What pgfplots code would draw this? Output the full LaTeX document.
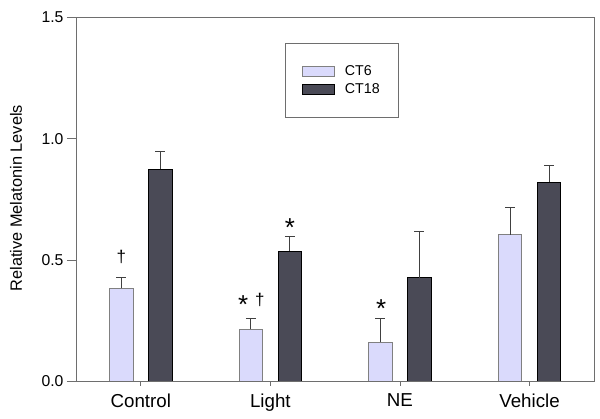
\documentclass[border=0pt]{standalone}
\usepackage{fontspec}
\setmainfont{Liberation Sans}
\usepackage{pgfplots}
\pgfplotsset{compat=1.18}
\definecolor{ctsix}{RGB}{218,218,252}
\definecolor{cteight}{RGB}{74,74,86}
\definecolor{frame}{RGB}{110,110,110}
\begin{document}
\begin{tikzpicture}
\useasboundingbox (-76bp,-38bp) rectangle (524bp,381bp);
\begin{axis}[
  scale only axis, width=518.3bp, height=363.5bp,
  xmin=-0.5, xmax=3.5, ymin=0, ymax=1.5,
  ybar, bar width=23.3bp,
  xtick={0,1,2,3}, xticklabels={Control,Light,NE,Vehicle},
  ytick={0,0.5,1,1.5},
  tick pos=left,
  /pgf/number format/assume math mode=true,
  yticklabel style={/pgf/number format/.cd, fixed, fixed zerofill, precision=1, /tikz/.cd, font=\fontsize{15.8}{17}\selectfont},
  xticklabel style={font=\fontsize{18.8}{20}\selectfont},
  tick align=outside, major tick length=9bp,
  xtick style={/pgfplots/major tick length=4.5bp},
  tick style={frame, line width=0.6bp},
  minor tick num=0,
  axis line style={frame, line width=0.8bp},
  ylabel={Relative Melatonin Levels},
  every axis y label/.style={at={(axis description cs:-0.1158,0.503)}, rotate=90, anchor=center, font=\fontsize{16.4}{18}\selectfont},
  legend cell align=left,
  legend style={at={(0.4032,0.929)}, anchor=north west, draw=frame, line width=0.6bp,
    font=\fontsize{14.3}{16}\selectfont, inner xsep=17bp, inner ysep=20bp, row sep=3bp},
]
\addplot[bar shift=-19.5bp, fill=ctsix, draw=gray, line width=0.6bp,
  legend image code/.code={\draw[fill=ctsix, draw=gray, line width=0.6bp] (0bp,-5bp) rectangle (32bp,5bp); \path (40bp,0bp);},
  error bars/.cd, y dir=plus, y explicit,
  error bar style={gray!50!black, line width=0.8bp},
  error mark options={rotate=90, mark size=5bp, gray!50!black, line width=0.8bp}]
  table[x=x, y=y, y error=e] {
  x y e
  0 0.382 0.044
  1 0.213 0.046
  2 0.160 0.099
  3 0.604 0.111
};
\addlegendentry{CT6}
\addplot[bar shift=19.5bp, fill=cteight, draw=black, line width=0.6bp,
  legend image code/.code={\draw[fill=cteight, draw=black, line width=0.6bp] (0bp,-5bp) rectangle (32bp,5bp); \path (40bp,0bp);},
  error bars/.cd, y dir=plus, y explicit,
  error bar style={gray!50!black, line width=0.8bp},
  error mark options={rotate=90, mark size=5bp, gray!50!black, line width=0.8bp}]
  table[x=x, y=y, y error=e] {
  x y e
  0 0.873 0.073
  1 0.536 0.059
  2 0.426 0.193
  3 0.821 0.069
};
\addlegendentry{CT18}
\node[font=\fontsize{17}{18}\selectfont] at (axis cs:-0.15,0.51) {†};
\node[font=\fontsize{26}{26}\selectfont, yshift=-5bp] at (axis cs:0.79,0.334) {*};
\node[font=\fontsize{17}{18}\selectfont] at (axis cs:0.918,0.335) {†};
\node[font=\fontsize{26}{26}\selectfont, yshift=-5bp] at (axis cs:1.15,0.653) {*};
\node[font=\fontsize{26}{26}\selectfont, yshift=-5bp] at (axis cs:1.856,0.32) {*};
\end{axis}
\end{tikzpicture}
\end{document}
